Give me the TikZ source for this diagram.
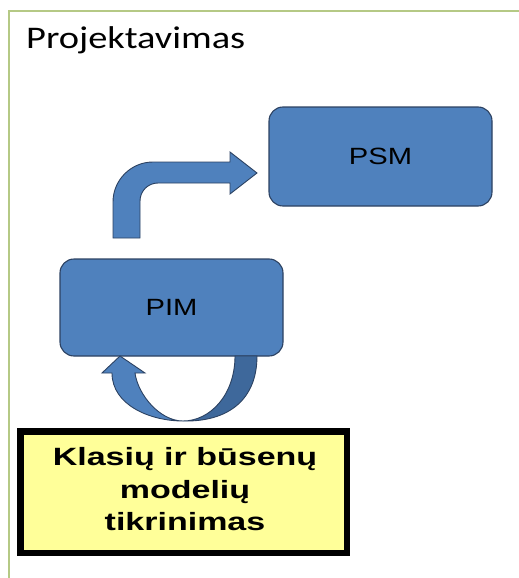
\documentclass[tikz,border=0pt]{standalone}
\usepackage{fontspec}
\newfontfamily\titlefont[FakeStretch=1.22]{Carlito}
\newfontfamily\boxfont[FakeStretch=1.24]{Liberation Sans}
\newfontfamily\notefont[FakeStretch=1.36]{Liberation Sans}
\definecolor{framegreen}{RGB}{181,201,133}
\definecolor{boxblue}{RGB}{79,129,189}
\definecolor{boxblueshade}{RGB}{62,104,155}
\definecolor{boxedge}{RGB}{44,66,98}
\definecolor{noteyellow}{RGB}{255,255,153}
\tikzset{
  modelbox/.style={draw=boxedge, line width=1.1pt, fill=boxblue, rounded corners=14pt,
    minimum width=223pt, inner sep=0pt, font=\boxfont\fontsize{23.5}{26}\selectfont},
  blockarrow/.style={draw=boxedge, line width=0.9pt, fill=boxblue, line join=miter},
  blockshade/.style={draw=boxedge, line width=0.9pt, fill=boxblueshade},
  notebox/.style={draw=black, line width=6.5pt, fill=noteyellow, inner sep=0pt,
    minimum width=326.5pt, minimum height=121.5pt},
}
\begin{document}
\begin{tikzpicture}[x=1pt, y=-1pt]
  \useasboundingbox (0,0) rectangle (519,578);
  % slide frame, left and top edges
  \draw[framegreen, line width=2pt] (522,11) -- (8.6,11) -- (8.6,582);
  \node[anchor=base west, inner sep=0pt, font=\titlefont\fontsize{31.5}{36}\selectfont]
    (title) at (26,48.3) {Projektavimas};

  % models
  \node[modelbox, minimum height=99pt] (psm) at (380.5,156.5) {PSM};
  \node[modelbox, minimum height=97pt] (pim) at (171.5,307.5) {PIM};

  % bent arrow from PIM up to PSM
  \draw[blockarrow]
    (113,238) -- (113,202) .. controls (113,180) and (131,162) .. (153,162)
    -- (230,162) -- (230,152) -- (257,173) -- (230,194) -- (230,183)
    -- (158,183) .. controls (148,183) and (140,191) .. (140,201)
    -- (140,238) -- cycle;

  % curved arrow returning into PIM: shaded back side, then front side
  \draw[blockshade]
    (183,421) .. controls (228,422) and (257,400) .. (257,356)
    -- (235,356) .. controls (235,395) and (210,421) .. (183,421) -- cycle;
  \draw[blockarrow]
    (183,421) .. controls (150,421) and (112,405) .. (112,373)
    -- (102,373) -- (120,356) -- (145,373) -- (135,373)
    .. controls (138,395) and (160,421) .. (183,421) -- cycle;

  % checking note
  \node[notebox] (check) at (183.75,492.25) {};
  \node[align=center, inner sep=0pt, font=\notefont\bfseries\fontsize{25}{32.5}\selectfont]
    (checktext) at (185,489.5) {Klasių ir būsenų\\modelių\\tikrinimas};
\end{tikzpicture}
\end{document}
